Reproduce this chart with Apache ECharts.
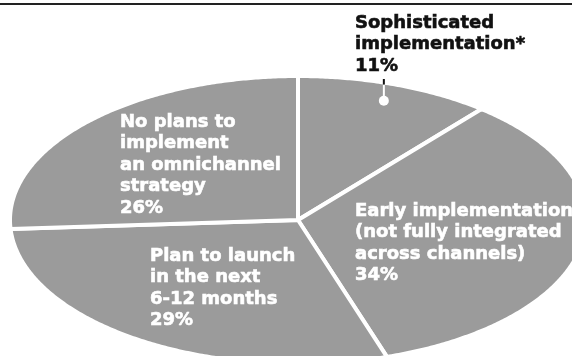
<!DOCTYPE html>
<html>
<head>
<meta charset="utf-8">
<script src="https://cdn.jsdelivr.net/npm/echarts@6/dist/echarts.min.js"></script>
<style>
  html, body { margin: 0; padding: 0; background: #fff; }
  #chart { width: 572px; height: 356px; }
</style>
</head>
<body>
<div id="chart"></div>
<script>
// ---- data ----
const categories = [
  'Sophisticated implementation*',
  'Early implementation (not fully integrated across channels)',
  'Plan to launch in the next 6-12 months',
  'No plans to implement an omnichannel strategy'
];
const values = [11, 34, 29, 26];
const labelLines = [
  ['Sophisticated', 'implementation*'],
  ['Early implementation', '(not fully integrated', 'across channels)'],
  ['Plan to launch', 'in the next', '6-12 months'],
  ['No plans to', 'implement', 'an omnichannel', 'strategy']
];

// ---- layout ----
const CX = 298, CY = 220, RX = 288, RY = 144;
const labelAnchor = [[355, 12.5], [355, 200.5], [150, 245.5], [120, 111.5]];
const labelColor = ['#111111', '#ffffff', '#ffffff', '#ffffff'];
const FONT = 'bold 18px "DejaVu Sans"';
const total = values.reduce((a, b) => a + b, 0);

function pt(theta, k) {
  return [CX + RX * k * Math.sin(theta), CY - RY * k * Math.cos(theta)];
}

function renderItem(params, api) {
  const i = params.dataIndex;
  let before = 0;
  for (let j = 0; j < i; j++) before += values[j];
  const a0 = before / total * Math.PI * 2;
  const a1 = (before + values[i]) / total * Math.PI * 2;
  const pts = [[CX, CY]];
  const steps = Math.max(8, Math.ceil((a1 - a0) / (Math.PI / 360)));
  for (let s = 0; s <= steps; s++) {
    pts.push(pt(a0 + (a1 - a0) * s / steps, 1));
  }
  const children = [{
    type: 'polygon',
    shape: { points: pts },
    style: { fill: '#9b9b9b', stroke: '#ffffff', lineWidth: 4, lineJoin: 'miter' },
    z2: 1
  }];
  const text = labelLines[i].join('\n') + '\n' + api.value(0) + '%';
  children.push({
    type: 'text',
    z2: 20,
    style: {
      text: text,
      x: labelAnchor[i][0],
      y: labelAnchor[i][1],
      fill: labelColor[i],
      stroke: labelColor[i],
      lineWidth: 0.6,
      font: FONT,
      lineHeight: 21.5,
      align: 'left',
      verticalAlign: 'top'
    }
  });
  if (i === 0) {
    const mid = (a0 + a1) / 2;
    const dot = pt(mid, 0.88);
    const dx = dot[0] - CX;
    const edgeY = CY - (RY - 2) * Math.sqrt(Math.max(0, 1 - (dx / (RX - 2)) * (dx / (RX - 2))));
    children.push({
      type: 'line', z2: 15,
      shape: { x1: dot[0], y1: dot[1], x2: dot[0], y2: edgeY },
      style: { stroke: '#ffffff', lineWidth: 2 }
    });
    children.push({
      type: 'line', z2: 15,
      shape: { x1: dot[0], y1: edgeY, x2: dot[0], y2: 79 },
      style: { stroke: '#111111', lineWidth: 2 }
    });
    children.push({
      type: 'circle', z2: 16,
      shape: { cx: dot[0], cy: dot[1], r: 5 },
      style: { fill: '#ffffff' }
    });
  }
  return { type: 'group', children: children };
}

const chart = echarts.init(document.getElementById('chart'), null, { renderer: 'canvas' });
chart.setOption({
  animation: false,
  backgroundColor: '#ffffff',
  graphic: [{
    type: 'line',
    shape: { x1: 0, y1: 4, x2: 572, y2: 4 },
    style: { stroke: '#222222', lineWidth: 2 },
    z: 10
  }],
  series: [{
    type: 'custom',
    coordinateSystem: 'none',
    data: values.map((v, i) => ({ value: [v], name: categories[i] })),
    renderItem: renderItem
  }]
});
</script>
</body>
</html>
